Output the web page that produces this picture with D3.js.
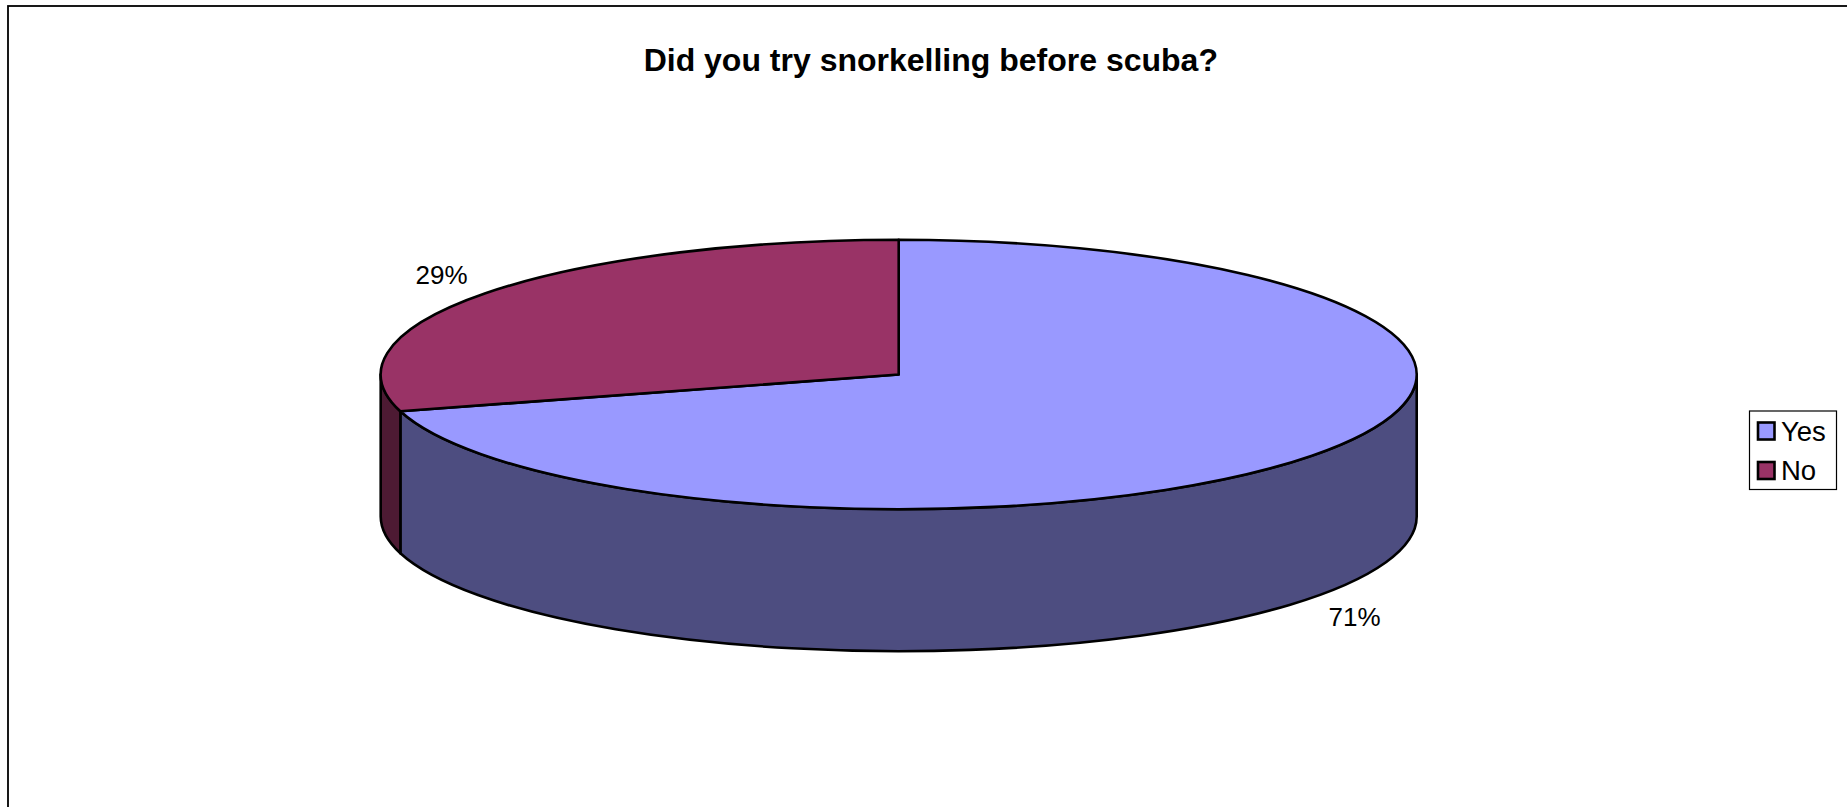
<!DOCTYPE html>
<html><head><meta charset="utf-8">
<script src="https://cdn.jsdelivr.net/npm/d3@7/dist/d3.min.js"></script>
<style>html,body{margin:0;padding:0;background:#fff}svg{display:block}text{font-family:"Liberation Sans",Arial,sans-serif;fill:#000}</style>
</head><body><script>
const titleText = "Did you try snorkelling before scuba?";
const categories = ["Yes", "No"];
const seriesValues = [70.6, 29.4];
const topColors = ["#9999FF", "#993366"];
const sideColors = ["#4D4D80", "#4D1A33"];
const labelAnchors = [[1354.5, 626], [441.5, 284]];

const W = 1847, H = 807;
const cx = 898.7, cy = 374.5, rx = 518, ry = 134.7, depth = 142;
const svg = d3.select("body").append("svg").attr("width", W).attr("height", H);

// chart frame (runs off the right and bottom of the page)
svg.append("rect").attr("x", 8).attr("y", 6).attr("width", W + 20).attr("height", H + 20)
  .attr("fill", "#fff").attr("stroke", "#000").attr("stroke-width", 1.8);

const total = d3.sum(seriesValues);
const arcs = d3.pie().sort(null).startAngle(0).endAngle(2 * Math.PI)(seriesValues);
const px = a => cx + rx * Math.sin(a);
const py = a => cy - ry * Math.cos(a);

function topPath(d) {
  const large = d.endAngle - d.startAngle > Math.PI ? 1 : 0;
  return `M${cx},${cy}L${px(d.startAngle)},${py(d.startAngle)}A${rx},${ry} 0 ${large} 1 ${px(d.endAngle)},${py(d.endAngle)}Z`;
}
// side wall: only the front half of the rim (angles between PI/2 and 3PI/2)
function sidePath(d) {
  const a0 = Math.max(d.startAngle, Math.PI / 2), a1 = Math.min(d.endAngle, 3 * Math.PI / 2);
  if (a1 <= a0) return null;
  const large = a1 - a0 > Math.PI ? 1 : 0;
  return `M${px(a0)},${py(a0)}A${rx},${ry} 0 ${large} 1 ${px(a1)},${py(a1)}` +
         `L${px(a1)},${py(a1) + depth}A${rx},${ry} 0 ${large} 0 ${px(a0)},${py(a0) + depth}Z`;
}
const marks = svg.append("g").attr("stroke", "#000").attr("stroke-width", 2.6).attr("stroke-linejoin", "round");
marks.selectAll(".side").data(arcs).join("path").attr("class", "side")
  .attr("d", sidePath).attr("fill", (d, i) => sideColors[i]);
marks.selectAll(".top").data(arcs).join("path").attr("class", "top")
  .attr("d", topPath).attr("fill", (d, i) => topColors[i]);

svg.append("text").attr("x", 930.8).attr("y", 71).attr("text-anchor", "middle")
  .attr("font-size", 32).attr("font-weight", "bold").text(titleText);

const pct = d3.format(".0%");
svg.selectAll(".lab").data(seriesValues).join("text").attr("class", "lab")
  .attr("x", (d, i) => labelAnchors[i][0]).attr("y", (d, i) => labelAnchors[i][1])
  .attr("text-anchor", "middle").attr("font-size", 26)
  .text(d => pct(d / total));

// legend
const legend = svg.append("g");
legend.append("rect").attr("x", 1749.5).attr("y", 411).attr("width", 87).attr("height", 78.5)
  .attr("fill", "#fff").attr("stroke", "#000").attr("stroke-width", 1.2);
const legendY = d3.scalePoint().domain(categories).range([431, 470.5]);
categories.forEach((c, i) => {
  legend.append("rect").attr("x", 1758).attr("y", legendY(c) - 8.5).attr("width", 16.5).attr("height", 17)
    .attr("fill", topColors[i]).attr("stroke", "#000").attr("stroke-width", 2.6);
  legend.append("text").attr("x", 1781).attr("y", legendY(c) + 9.5).attr("font-size", 27.5).text(c);
});
</script></body></html>
